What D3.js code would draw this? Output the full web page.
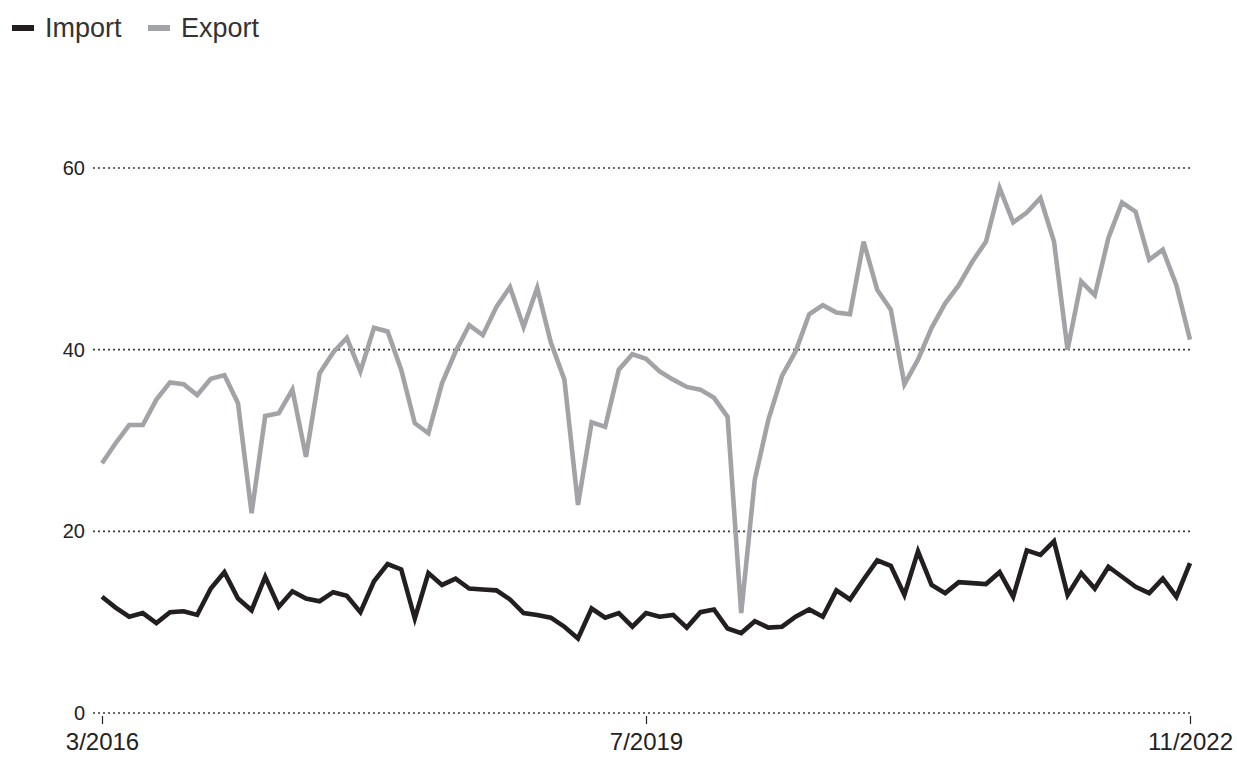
<!DOCTYPE html>
<html>
<head>
<meta charset="utf-8">
<script src="https://cdn.jsdelivr.net/npm/d3@7"></script>
<style>
  body { margin: 0; background: #ffffff; }
  svg { display: block; }
</style>
</head>
<body>
<div id="chart"></div>
<script>

// months go from 3/2016 to 11/2022, one point per month
var start_year = 2016;
var start_month = 3;
var month_count = 81;

// tick labels on the x axis
var x_tick_labels = ["3/2016", "7/2019", "11/2022"];
var y_tick_values = [0, 20, 40, 60];

// series names (legend order)
var series_names = ["Import", "Export"];

var import_values = [
  12.8, 11.6, 10.6, 11.0, 9.9, 11.1, 11.2, 10.8, 13.7, 15.5,
  12.6, 11.3, 15.0, 11.7, 13.4, 12.6, 12.3, 13.3, 12.9, 11.1,
  14.5, 16.4, 15.8, 10.4, 15.4, 14.1, 14.8, 13.7, 13.6, 13.5,
  12.5, 11.0, 10.8, 10.5, 9.5, 8.2, 11.5, 10.5, 11.0, 9.5,
  11.0, 10.6, 10.8, 9.4, 11.1, 11.4, 9.3, 8.8, 10.1, 9.4,
  9.5, 10.6, 11.4, 10.6, 13.5, 12.5, 14.7, 16.8, 16.2, 13.0,
  17.8, 14.1, 13.2, 14.4, 14.3, 14.2, 15.5, 12.8, 17.9, 17.4,
  18.9, 13.0, 15.4, 13.7, 16.1, 15.0, 13.9, 13.2, 14.8, 12.8,
  16.5
];

var export_values = [
  27.5, 29.7, 31.7, 31.7, 34.5, 36.4, 36.2, 35.0, 36.8, 37.2,
  34.1, 22.0, 32.7, 33.0, 35.6, 28.2, 37.4, 39.7, 41.3, 37.6,
  42.4, 42.0, 37.8, 31.9, 30.8, 36.3, 39.8, 42.7, 41.6, 44.7,
  46.9, 42.5, 46.8, 40.8, 36.7, 22.9, 32.0, 31.5, 37.8, 39.5,
  39.0, 37.6, 36.7, 35.9, 35.6, 34.7, 32.6, 11.0, 25.7, 32.3,
  37.1, 39.8, 43.9, 44.9, 44.1, 43.9, 51.9, 46.6, 44.4, 36.2,
  38.9, 42.4, 45.1, 47.1, 49.7, 51.9, 57.8, 54.0, 55.1, 56.7,
  51.9, 40.0, 47.5, 46.0, 52.3, 56.2, 55.2, 49.9, 51.0, 47.1,
  41.1
];

var import_color = "#231f20";
var export_color = "#a2a3a7";

// window size
var w = 1237;
var h = 760;

// month labels like "3/2016" for every point
var month_labels = [];
for (var i = 0; i < month_count; i++) {
  var m = start_month - 1 + i;
  month_labels.push((m % 12 + 1) + "/" + (start_year + Math.floor(m / 12)));
}

var svg = d3.select("#chart").append("svg")
    .attr("width", w)
    .attr("height", h);

// scales
var x = d3.scalePoint()
    .domain(month_labels)
    .range([102, 1190]);

var y = d3.scaleLinear()
    .domain([0, 60])
    .range([713, 168]);

// dotted gridlines
svg.append("g").attr("class", "grid")
  .selectAll("line")
  .data(y_tick_values)
  .enter().append("line")
    .attr("x1", 93)
    .attr("x2", 1192)
    .attr("y1", function(d) { return y(d); })
    .attr("y2", function(d) { return y(d); })
    .attr("stroke", "#3a3a3a")
    .attr("stroke-width", 1.6)
    .attr("stroke-dasharray", "2,3");

// y labels
svg.append("g").attr("class", "y labels")
  .selectAll("text")
  .data(y_tick_values)
  .enter().append("text")
    .attr("x", 85)
    .attr("y", function(d) { return y(d) + 7; })
    .attr("text-anchor", "end")
    .attr("font-family", "Liberation Sans, Arial, sans-serif")
    .attr("font-size", 20)
    .attr("fill", "#222")
    .text(function(d) { return d; });

// x axis - only tick marks and labels, no domain line
var x_axis = svg.append("g")
    .attr("transform", "translate(0," + 716 + ")")
    .call(d3.axisBottom(x).tickValues(x_tick_labels).tickSize(8).tickPadding(9));

x_axis.select(".domain").remove();
x_axis.selectAll(".tick line").attr("stroke", "#222").attr("stroke-width", 1.2);
x_axis.selectAll(".tick text")
    .attr("font-family", "Liberation Sans, Arial, sans-serif")
    .attr("font-size", 24)
    .attr("fill", "#222");

// lines
var line_gen = function(values) {
  return d3.line()
      .x(function(d, i) { return x(month_labels[i]); })
      .y(function(d) { return y(d); })(values);
};

svg.append("path")
    .attr("d", line_gen(export_values))
    .attr("fill", "none")
    .attr("stroke", export_color)
    .attr("stroke-width", 4.6)
    .attr("stroke-linejoin", "miter");

svg.append("path")
    .attr("d", line_gen(import_values))
    .attr("fill", "none")
    .attr("stroke", import_color)
    .attr("stroke-width", 4.6)
    .attr("stroke-linejoin", "miter");

// legend at the top left
var legend_x = [12, 148];
var legend_colors = [import_color, export_color];

var legend = svg.append("g").attr("class", "legend")
  .selectAll("g")
  .data(series_names)
  .enter().append("g")
    .attr("transform", function(d, i) { return "translate(" + legend_x[i] + ",0)"; });

legend.append("rect")
    .attr("x", 0)
    .attr("y", 25)
    .attr("width", 22)
    .attr("height", 6)
    .attr("fill", function(d, i) { return legend_colors[i]; });

legend.append("text")
    .attr("x", 33)
    .attr("y", 37)
    .attr("font-family", "Liberation Sans, Arial, sans-serif")
    .attr("font-size", 27)
    .attr("fill", "#333")
    .text(function(d) { return d; });

</script>
</body>
</html>
